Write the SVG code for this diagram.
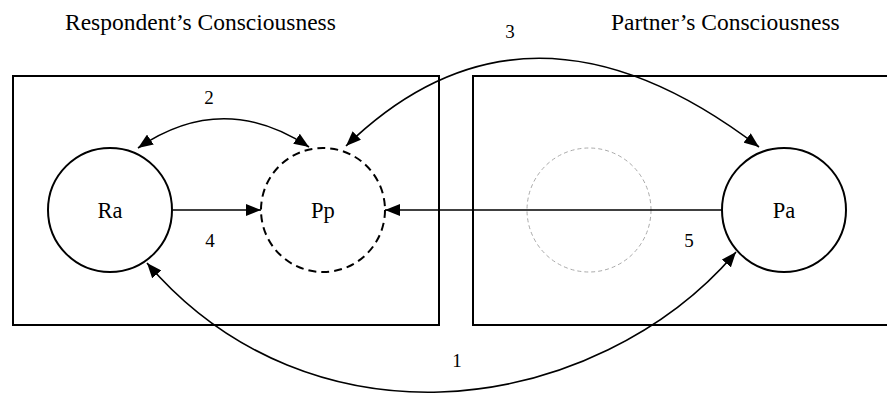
<svg xmlns="http://www.w3.org/2000/svg" width="887" height="395" viewBox="0 0 887 395">
<style>
.title{font-size:23.5px}
.lbl{font-size:22.5px;text-anchor:middle}
.num{font-size:19px;text-anchor:middle}
.box{fill:none;stroke:#000;stroke-width:2}
.node{fill:#fff;stroke:#000;stroke-width:2}
.edge{fill:none;stroke:#000;stroke-width:1.6}
</style>
<defs>
<marker id="ah" markerUnits="userSpaceOnUse" markerWidth="16" markerHeight="12" refX="15" refY="6" orient="auto-start-reverse">
<path d="M0,0 L15,6 L0,12 Z" fill="#000"/>
</marker>
</defs>
<rect width="887" height="395" fill="#fff"/>
<g font-family="Liberation Serif, DejaVu Serif, serif" fill="#000">
<g id="titles">
<text class="title" x="65" y="30">Respondent’s Consciousness</text>
<text class="title" x="611" y="30">Partner’s Consciousness</text>
</g>
<g id="respondent-box"><rect class="box" x="13" y="76" width="426" height="249"/></g>
<g id="partner-box"><rect class="box" x="473" y="76" width="416" height="249"/></g>
<g id="ghost"><circle cx="589" cy="210" r="62" fill="none" stroke="#aaa" stroke-width="1" stroke-dasharray="4,3"/></g>
<g id="connectors">
<path class="edge" d="M173,210 L261,210" marker-end="url(#ah)"/>
<path class="edge" d="M722,210 L385,210" marker-end="url(#ah)"/>
<path class="edge" d="M138,148 Q223,90 309,147" marker-start="url(#ah)" marker-end="url(#ah)"/>
<path class="edge" d="M346,146 Q527,-30 759,147" marker-start="url(#ah)" marker-end="url(#ah)"/>
<path class="edge" d="M147,263 C230,360 340,395 440,392 C560,388 670,330 736,252" marker-start="url(#ah)" marker-end="url(#ah)"/>
<text class="num" x="209" y="104">2</text>
<text class="num" x="510" y="38">3</text>
<text class="num" x="210" y="247">4</text>
<text class="num" x="689" y="247">5</text>
<text class="num" x="457" y="367">1</text>
</g>
<g id="Ra"><circle class="node" cx="110" cy="210" r="62"/><text class="lbl" x="110" y="218">Ra</text></g>
<g id="Pp"><circle class="node" cx="323" cy="210" r="62" stroke-dasharray="8,5"/><text class="lbl" x="323" y="218">Pp</text></g>
<g id="Pa"><circle class="node" cx="784" cy="210" r="62"/><text class="lbl" x="784" y="218">Pa</text></g>
</g>
</svg>
